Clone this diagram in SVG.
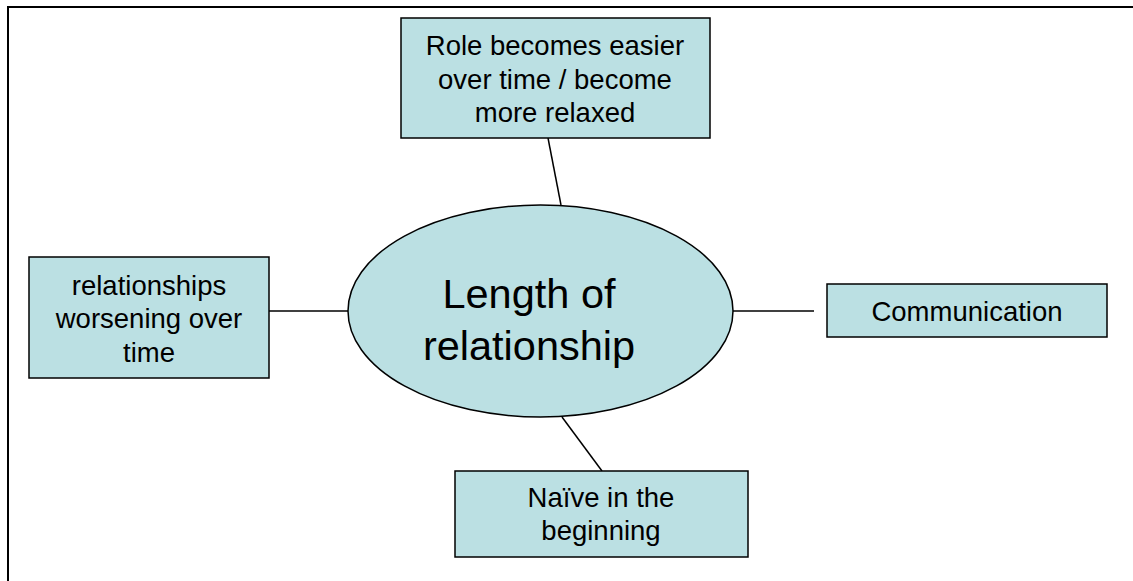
<svg xmlns="http://www.w3.org/2000/svg" width="1133" height="581" viewBox="0 0 1133 581">
<style>
.box{fill:#BBE0E3;stroke:#000;stroke-width:1.5}
.t{font-family:"Liberation Sans",Arial,sans-serif;font-size:27.5px;fill:#000;text-anchor:middle}
.big{font-size:41.5px}
.c{stroke:#000;stroke-width:1.5;fill:none}
</style>
<rect width="1133" height="581" fill="#fff"/>
<path d="M8,581 V7 H1133" fill="none" stroke="#000" stroke-width="2"/>
<g id="connectors">
<line class="c" x1="548" y1="138" x2="561" y2="205"/>
<line class="c" x1="269" y1="311" x2="348" y2="311"/>
<line class="c" x1="733" y1="311" x2="814" y2="311"/>
<line class="c" x1="562" y1="417" x2="602" y2="471"/>
</g>
<g id="center">
<ellipse class="box" cx="540.5" cy="311" rx="192.5" ry="106"/>
<text class="t big" x="529" y="308">Length of</text>
<text class="t big" x="529" y="360">relationship</text>
</g>
<g id="top">
<rect class="box" x="401" y="18" width="309" height="120"/>
<text class="t" x="555" y="55">Role becomes easier</text>
<text class="t" x="555" y="89">over time / become</text>
<text class="t" x="555" y="122">more relaxed</text>
</g>
<g id="left">
<rect class="box" x="29" y="257" width="240" height="121"/>
<text class="t" x="149" y="295">relationships</text>
<text class="t" x="149" y="328">worsening over</text>
<text class="t" x="149" y="362">time</text>
</g>
<g id="right">
<rect class="box" x="827" y="284" width="280" height="53"/>
<text class="t" x="967" y="321">Communication</text>
</g>
<g id="bottom">
<rect class="box" x="455" y="471" width="293" height="86"/>
<text class="t" x="601" y="507">Naïve in the</text>
<text class="t" x="601" y="540">beginning</text>
</g>
</svg>
